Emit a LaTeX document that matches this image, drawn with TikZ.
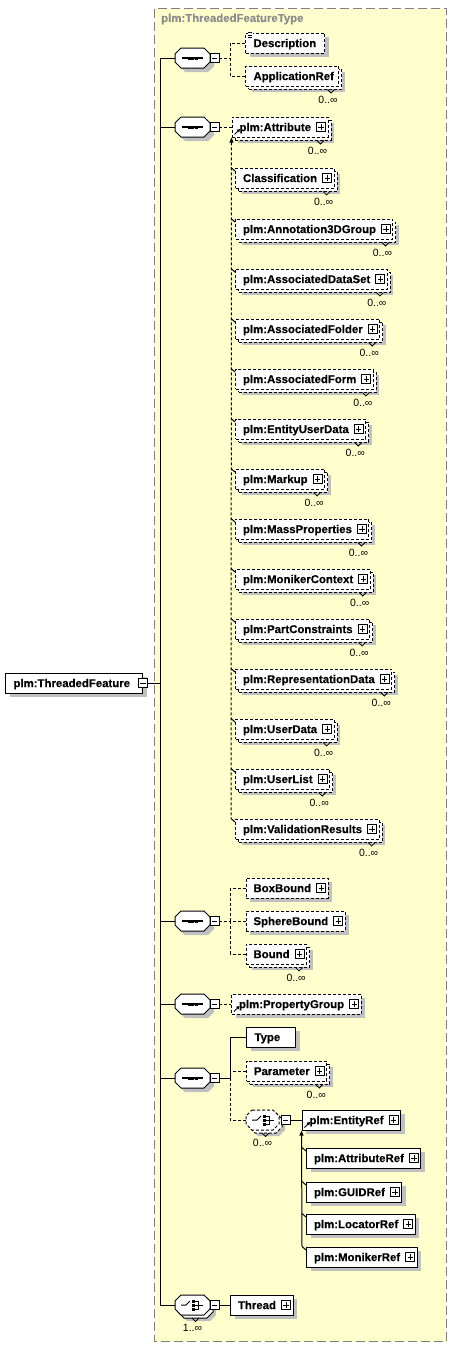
\documentclass[tikz,border=0pt]{standalone}
\usepackage{fontspec}
\setmainfont{Liberation Sans}[BoldFeatures={FakeBold=0.35}]
\usetikzlibrary{shadows,arrows.meta,calc}
\definecolor{bgyel}{RGB}{255,255,206}
\definecolor{shgray}{RGB}{192,192,192}
\definecolor{frgray}{RGB}{128,128,128}
\definecolor{ttgray}{RGB}{140,140,140}
\newcommand\elfont{\fontsize{11.4}{13}\selectfont\bfseries}
\newcommand\mulfont{\fontsize{10.5}{12}\selectfont}
\tikzset{
  ln/.style={line width=1pt},
  dsh/.style={dash pattern=on 3pt off 2pt},
  sh/.style={general shadow={shadow xshift=4pt,shadow yshift=-4pt,fill=shgray}},
  repsh/.style={general shadow={shadow xshift=6pt,shadow yshift=-6pt,fill=shgray},
    general shadow={shadow xshift=3pt,shadow yshift=-3pt,fill=white,draw=black,line width=1pt,#1}},
  repsh/.default=solid,
  elbox/.style={draw,line width=1pt,fill=white,anchor=west,minimum height=20pt,
    inner ysep=0pt,inner xsep=8pt,font=\elfont,text height=8.2pt,text depth=0pt},
  pm/.style={draw,solid,line width=0.8pt,fill=white,minimum size=9pt,inner sep=0pt},
  mult/.style={font=\mulfont,inner sep=0pt},
  comp/.style={minimum height=20pt,inner sep=0pt,outer sep=0pt},
}
% element box with explicit width, no expand box
\newcommand\Elem[6][]{%
  \pgfmathsetmacro\elW{#4-#3}%
  \pgfmathsetmacro\elT{#4-#3-16}%
  \node[elbox,align=left,minimum width=\elW pt,text width=\elT pt,#1] (#2) at (#3,#5) {#6};}
% element box sized by its text, with expand box
\newcommand\ElemP[5][]{%
  \node[elbox,inner xsep=0pt,#1] (#2) at (#3,#4) {\hspace*{7.5pt}#5\hspace*{17pt}};
  \node[pm] (#2-x) at ([xshift=-7.5pt]#2.east) {};
  \draw[line width=0.8pt] ([xshift=-2.6pt]#2-x.center) -- ([xshift=2.6pt]#2-x.center)
    ([yshift=-2.6pt]#2-x.center) -- ([yshift=2.6pt]#2-x.center);}
\newcommand\Minus[2]{%
  \node[pm] (#1) at (#2) {};
  \draw[line width=0.8pt] ([xshift=-2.6pt]#1.center) -- ([xshift=2.6pt]#1.center);}
\newcommand\Mult[2]{%
  \draw[line width=0.8pt] ($(#1.south east)+(-11.5pt,-3pt)$) -- ++(3.5pt,-3.5pt) -- ++(3.5pt,3.5pt);
  \node[mult] at ($(#1.south east)+(-11pt,-13pt)$) {#2};}
\newcommand\RefArr[1]{\draw[line width=0.9pt,-{Triangle[length=3pt,width=3.5pt]}] ($(#1.south west)+(3pt,3pt)$) -- ++(5.5pt,5.5pt);}
\newcommand\Hook[1]{\draw[line width=1pt] ($(#1.north west)+(-4pt,0pt)$) -- ($(#1.north west)+(0pt,-3.5pt)$);}
\newcommand\Comp[5][]{%
  \node[comp,minimum width=#5pt] (#2) at (#3+#5/2,#4) {};
  \draw[ln,fill=white,#1] (#3+6,#4-10) -- (#3+#5-6,#4-10) -- (#3+#5,#4-4) -- (#3+#5,#4+4) -- (#3+#5-6,#4+10) -- (#3+6,#4+10) -- (#3,#4+4) -- (#3,#4-4) -- cycle;}
\newcommand\SeqSym[1]{%
  \draw[line width=1.1pt] ($(#1.west)+(7pt,0pt)$) -- ($(#1.west)+(28pt,0pt)$);
  \foreach \dx in {14,17.5,21}{\fill ($(#1.west)+(\dx pt,0pt)$) +(-1.5pt,-1.5pt) rectangle +(1.5pt,1.5pt);}}
\newcommand\ChSym[1]{%
  \draw[line width=1pt] ($(#1.west)+(6pt,0pt)$) -- ++(5pt,0pt) -- ++(4pt,4pt);
  \foreach \dy in {-4,0,4}{\fill ($(#1.west)+(18.5pt,\dy pt)$) +(-1.5pt,-1.5pt) rectangle +(1.5pt,1.5pt);}
  \draw[line width=1pt] ($(#1.west)+(19.5pt,4pt)$) -- ++(3.5pt,0pt) -- ++(0pt,-8pt) -- ++(-3.5pt,0pt);
  \draw[line width=1pt] ($(#1.west)+(19.5pt,0pt)$) -- ++(8pt,0pt);}
\newcommand\CMult[2]{%
  \draw[line width=0.8pt] ($(#1.south)+(-0.5pt,-3pt)$) -- ++(3.5pt,-3.5pt) -- ++(3.5pt,3.5pt);
  \node[mult] at ($(#1.south)+(0pt,-13pt)$) {#2};}
\begin{document}
\begin{tikzpicture}[x=1pt,y=-1pt]
\useasboundingbox (0,0) rectangle (452,1349);
\draw[frgray,line width=1pt,dash pattern=on 9pt off 4pt,fill=bgyel] (154.5,8.5) rectangle (446,1341.5);
\node[anchor=west,font=\elfont,text=ttgray,inner sep=0pt] (title) at (161,19) {plm:ThreadedFeatureType};

% root
\Elem[sh]{root}{5}{142}{683}{plm:ThreadedFeature}
\Minus{root-x}{root.east}
\coordinate (tk) at (160,683);

% compositors
\Comp[sh]{seq1}{175}{58}{35}\SeqSym{seq1}\Minus{s1x}{$(seq1.east)+(4.5pt,0pt)$}
\Comp[sh]{seq2}{175}{127}{35}\SeqSym{seq2}\Minus{s2x}{$(seq2.east)+(4.5pt,0pt)$}
\Comp[sh]{seq3}{175}{921}{35}\SeqSym{seq3}\Minus{s3x}{$(seq3.east)+(4.5pt,0pt)$}
\Comp[sh]{seq4}{175}{1004}{35}\SeqSym{seq4}\Minus{s4x}{$(seq4.east)+(4.5pt,0pt)$}
\Comp[sh]{seq5}{175}{1078}{35}\SeqSym{seq5}\Minus{s5x}{$(seq5.east)+(4.5pt,0pt)$}
\Comp[dsh,repsh=dsh]{ch1}{246}{1120}{33}\ChSym{ch1}\CMult{ch1}{0..∞}\Minus{c1x}{$(ch1.east)+(6.5pt,0pt)$}
\Comp[repsh]{ch2}{175}{1305}{35}\ChSym{ch2}\CMult{ch2}{1..∞}\Minus{c2x}{$(ch2.east)+(4.5pt,0pt)$}

% trunk
\draw[ln] (root-x.east) -- (tk);
\draw[ln] (seq1.west) -- (seq1.west -| tk) -- (ch2.west -| tk) -- (ch2.west);
\foreach \s in {seq2,seq3,seq4,seq5}{\draw[ln] (\s.west) -- (\s.west -| tk);}

% sequence 1
\Elem[dsh,sh]{desc}{245}{324}{43}{Description}
\fill[white] ($(desc.north west)+(2.5pt,1.5pt)$) rectangle ++(5pt,-6.5pt);
\foreach \dy in {-0.2,-2.4,-4.6}{\draw[line width=0.8pt] ($(desc.north west)+(2.8pt,\dy pt)$) -- ++(4pt,0pt);}
\Elem[dsh,repsh=dsh]{appref}{245}{338}{76}{ApplicationRef}\Mult{appref}{0..∞}
\coordinate (b1) at ($(s1x.east)+(11pt,0pt)$);
\draw[ln,dsh] (s1x.east) -- (b1);
\draw[ln,dsh] (desc.west) -| (b1);
\draw[ln,dsh] (appref.west) -| (b1);

% sequence 2
\ElemP[dsh,repsh=dsh]{attr}{231.5}{127}{plm:Attribute}\Mult{attr}{0..∞}\RefArr{attr}
\draw[ln,dsh] (s2x.east) -- (attr.west);
\ElemP[dsh,repsh=dsh]{cls}{235}{178}{Classification}
\ElemP[dsh,repsh=dsh]{ann}{235}{229}{plm:Annotation3DGroup}
\ElemP[dsh,repsh=dsh]{ads}{235}{279}{plm:AssociatedDataSet}
\ElemP[dsh,repsh=dsh]{afo}{235}{329}{plm:AssociatedFolder}
\ElemP[dsh,repsh=dsh]{afm}{235}{379}{plm:AssociatedForm}
\ElemP[dsh,repsh=dsh]{eud}{235}{429}{plm:EntityUserData}
\ElemP[dsh,repsh=dsh]{mku}{235}{479}{plm:Markup}
\ElemP[dsh,repsh=dsh]{mpr}{235}{529}{plm:MassProperties}
\ElemP[dsh,repsh=dsh]{mct}{235}{579}{plm:MonikerContext}
\ElemP[dsh,repsh=dsh]{pcs}{235}{629}{plm:PartConstraints}
\ElemP[dsh,repsh=dsh]{rpd}{235}{679}{plm:RepresentationData}
\ElemP[dsh,repsh=dsh]{usd}{235}{729}{plm:UserData}
\ElemP[dsh,repsh=dsh]{usl}{235}{779}{plm:UserList}
\ElemP[dsh,repsh=dsh]{vlr}{235}{829}{plm:ValidationResults}
\foreach \n in {cls,ann,ads,afo,afm,eud,mku,mpr,mct,pcs,rpd,usd,usl,vlr}{\Mult{\n}{0..∞}\Hook{\n}}
\draw[ln,dsh,{Triangle[length=5pt,width=4pt]}-] (attr.south west) -- ($(vlr.north west)+(-4pt,0pt)$);

% sequence 3
\ElemP[dsh,sh]{bbx}{245.5}{888}{BoxBound}
\ElemP[dsh,sh]{sbd}{245.5}{921}{SphereBound}
\ElemP[dsh,repsh=dsh]{bnd}{245.5}{954}{Bound}\Mult{bnd}{0..∞}
\coordinate (b3) at ($(s3x.east)+(11pt,0pt)$);
\draw[ln,dsh] (s3x.east) -- (b3);
\draw[ln,dsh] (bbx.west) -| (b3);
\draw[ln,dsh] (sbd.west) -| (b3);
\draw[ln,dsh] (bnd.west) -| (b3);

% sequence 4
\ElemP[dsh,sh]{ppg}{231}{1004}{plm:PropertyGroup}\RefArr{ppg}
\draw[ln,dsh] (s4x.east) -- (ppg.west);

% sequence 5
\Elem[sh]{typ}{246}{295}{1037}{Type}
\ElemP[dsh,repsh=dsh]{prm}{246}{1071}{Parameter}\Mult{prm}{0..∞}
\coordinate (b5) at ($(s5x.east)+(11pt,0pt)$);
\draw[ln] (s5x.east) -- (b5);
\draw[ln] (typ.west) -| (b5);
\draw[ln,dsh] (prm.west) -| (b5);
\draw[ln,dsh] (ch1.west) -| (b5);

% choice 1
\ElemP[sh]{ent}{301.5}{1120}{plm:EntityRef}\RefArr{ent}
\draw[ln] (c1x.east) -- (ent.west);
\ElemP[sh]{atr}{306}{1158}{plm:AttributeRef}
\ElemP[sh]{gui}{306}{1192}{plm:GUIDRef}
\ElemP[sh]{loc}{306}{1224}{plm:LocatorRef}
\ElemP[sh]{mon}{306}{1257}{plm:MonikerRef}
\foreach \n in {atr,gui,loc,mon}{\Hook{\n}}
\draw[ln,{Triangle[length=5pt,width=4pt]}-] (ent.south west) -- ($(mon.north west)+(-4pt,0pt)$);

% choice 2
\ElemP[sh]{thr}{230}{1305}{Thread}
\draw[ln] (c2x.east) -- (thr.west);
\end{tikzpicture}
\end{document}
